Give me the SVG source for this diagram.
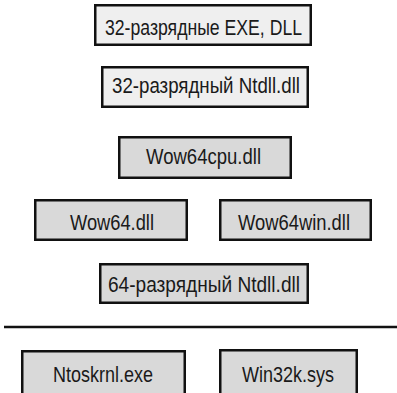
<svg xmlns="http://www.w3.org/2000/svg" width="397" height="393" viewBox="0 0 397 393">
  <style>
    .box { stroke: #111; stroke-width: 2.5; }
    .light { fill: #efefef; }
    .mid { fill: #d9d9d9; }
    .lbl { font-family: "Liberation Sans", Arial, sans-serif; font-size: 22px; fill: #1a1a1a; text-anchor: middle; }
  </style>
  <rect width="397" height="393" fill="#ffffff"/>

  <g id="exe32">
    <rect class="box light" x="95.25" y="5.25" width="215.5" height="39.5"/>
    <text class="lbl" x="203.5" y="35" textLength="197" lengthAdjust="spacingAndGlyphs">32-разрядные EXE, DLL</text>
  </g>
  <g id="ntdll32">
    <rect class="box light" x="102.25" y="67.25" width="205.5" height="39.5"/>
    <text class="lbl" x="206" y="93" textLength="188" lengthAdjust="spacingAndGlyphs">32-разрядный Ntdll.dll</text>
  </g>
  <g id="wow64cpu">
    <rect class="box mid" x="119.25" y="137.25" width="171.5" height="40.5"/>
    <text class="lbl" x="203.5" y="164" textLength="115" lengthAdjust="spacingAndGlyphs">Wow64cpu.dll</text>
  </g>
  <g id="wow64">
    <rect class="box mid" x="35.25" y="200.25" width="151.5" height="39.5"/>
    <text class="lbl" x="112" y="230" textLength="84" lengthAdjust="spacingAndGlyphs">Wow64.dll</text>
  </g>
  <g id="wow64win">
    <rect class="box mid" x="220.25" y="200.25" width="150.5" height="39.5"/>
    <text class="lbl" x="294" y="230" textLength="112" lengthAdjust="spacingAndGlyphs">Wow64win.dll</text>
  </g>
  <g id="ntdll64">
    <rect class="box mid" x="100.25" y="264.25" width="207.5" height="38.5"/>
    <text class="lbl" x="204" y="292" textLength="192" lengthAdjust="spacingAndGlyphs">64-разрядный Ntdll.dll</text>
  </g>

  <!-- user/kernel boundary -->
  <g id="connectors">
    <line x1="4" y1="327" x2="397" y2="327" stroke="#111" stroke-width="2.5"/>
  </g>

  <g id="ntoskrnl">
    <rect class="box mid" x="22.25" y="351.25" width="162.5" height="44"/>
    <text class="lbl" x="103" y="382" textLength="100" lengthAdjust="spacingAndGlyphs">Ntoskrnl.exe</text>
  </g>
  <g id="win32k">
    <rect class="box mid" x="220.25" y="350.25" width="136.5" height="45"/>
    <text class="lbl" x="288" y="382" textLength="92" lengthAdjust="spacingAndGlyphs">Win32k.sys</text>
  </g>
</svg>
